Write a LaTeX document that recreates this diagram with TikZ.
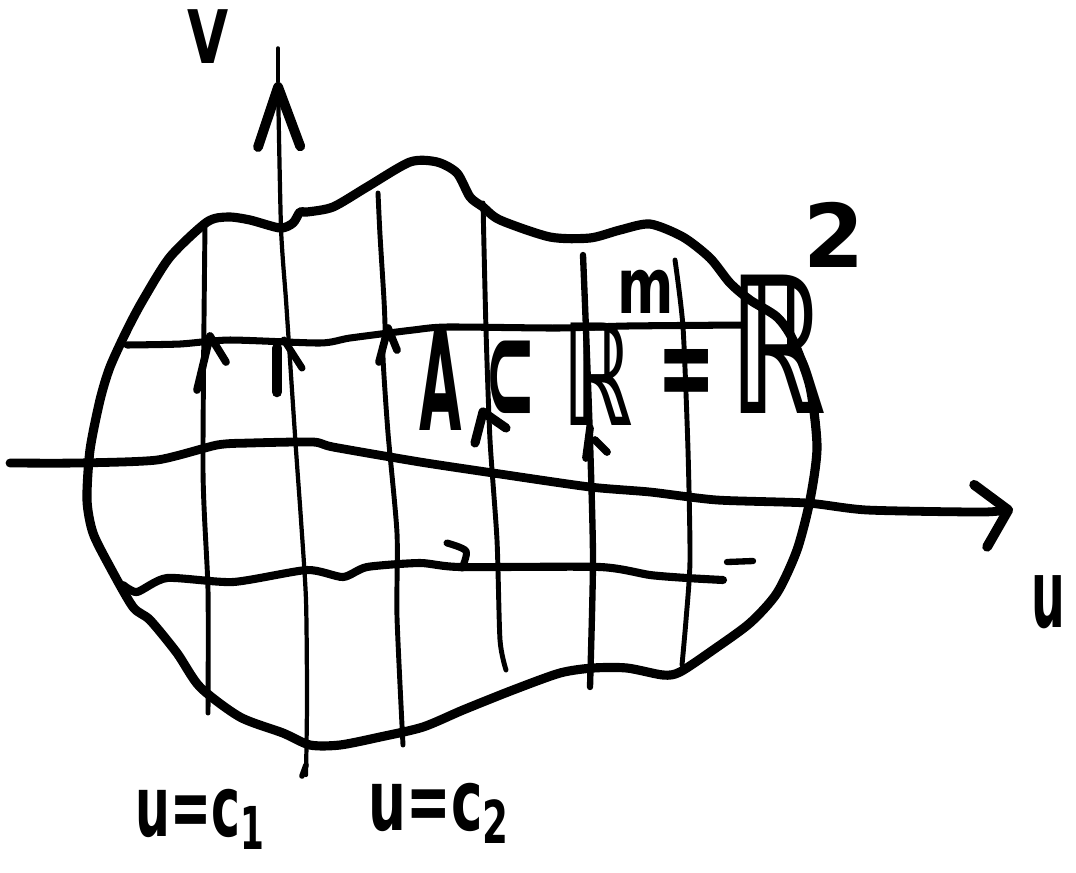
\documentclass[tikz,border=0pt]{standalone}
\usepackage{fontspec}
\setsansfont{DejaVu Sans}
\usepackage{graphicx}
\usetikzlibrary{arrows.meta}

\newcommand{\handtext}[2]{\scalebox{#1}[1]{#2}}

\tikzset{
  pen/.style={line width=2.5pt, line cap=round, line join=round},
  gridpen/.style={line width=1.4pt, line cap=round, line join=round},
  scrawl/.style={inner sep=0pt, font=\sffamily\bfseries\fontsize{#1}{#1}\selectfont},
}

\begin{document}
\begin{tikzpicture}[x=0.01cm, y=-0.01cm]
  \useasboundingbox (0,0) rectangle (1076,872);

  \coordinate (vtip) at (278,82);
  \coordinate (vend) at (278,48);
  \coordinate (utip) at (1013,509);

  % the region
  \draw[pen, line width=2.6pt] plot[smooth cycle, tension=0.45] coordinates {
    (170,257) (207,222) (228,217) (250,220) (280,228) (293,223) (300,212) (307,212)
    (333,207) (367,187) (410,162) (437,162) (457,173) (470,197) (483,207) (500,220)
    (550,237) (590,238) (620,230) (650,224) (683,237) (710,258) (730,283) (750,300)
    (777,317) (793,340) (810,387) (817,447) (810,500) (797,550) (777,593) (750,623)
    (713,650) (680,672) (663,675) (627,668) (593,668) (560,673) (513,690) (463,710)
    (423,727) (380,737) (340,745) (310,745) (283,733) (240,717) (200,687) (177,653)
    (150,620) (133,607) (110,567) (93,533) (87,500) (90,450) (100,400) (110,367)
    (127,330) (143,300)};

  % lines u = const
  \draw[gridpen] plot[smooth, tension=0.4] coordinates {(205,225) (203,470) (208,590) (208,713)};
  \draw[gridpen] plot[smooth, tension=0.4] coordinates {(378,193) (380,235) (384,300) (385,330) (383,357) (388,433) (397,533) (397,617) (403,745)};
  \draw[gridpen] plot[smooth, tension=0.4] coordinates {(483,203) (486,330) (490,440) (497,540) (500,640) (506,670)};
  \draw[gridpen, line width=1.8pt] plot[smooth, tension=0.4] coordinates {(583,255) (586,330) (590,440) (593,560) (590,687)};
  \draw[gridpen] plot[smooth, tension=0.4] coordinates {(675,260) (683,327) (688,450) (690,560) (686,620) (682,665)};

  % lines v = const
  \draw[pen, line width=2pt] plot[smooth, tension=0.4] coordinates {
    (127,345) (180,344) (230,340) (320,343) (350,338) (413,330) (447,327) (557,328) (627,326) (743,325)};
  \draw[pen, line width=2.3pt] plot[smooth, tension=0.4] coordinates {
    (123,585) (137,592) (167,578) (233,582) (307,570) (343,577) (367,567) (420,563)
    (460,567) (600,567) (650,575) (687,578) (723,580)};
  \draw[pen, line width=2pt] plot[smooth] coordinates {(447,543) (466,551) (462,568)};
  \draw[pen, line width=1.8pt] (727,562) -- (753,561);

  % axes
  \draw[pen, -{Straight Barb[length=8pt, width=18pt, line width=2.8pt, round]}]
    plot[smooth, tension=0.4] coordinates {
    (10,463) (77,463) (157,460) (217,445) (250,443) (313,442) (333,447) (420,462)
    (500,474) (590,487) (650,492) (717,500) (807,503) (867,510) (983,512) (utip)};
  \draw[gridpen, line width=1.2pt, -{Straight Barb[length=17pt, width=12pt, line width=2.8pt, round]}]
    plot[smooth, tension=0.4] coordinates {
    (306,775) (307,700) (306,600) (301,520) (296,450) (290,360) (286,300) (281,228) (vtip)};
  \draw[gridpen, line width=1pt] (vtip) -- (vend);
  \draw[gridpen, line width=1.6pt] (306,765) -- (302,776);

  % stray strokes on the grid
  \draw[pen, line width=2.2pt] (197,390) -- (210,336) -- (226,362);
  \draw[pen, line width=3pt] (277,392) -- (277,348);
  \draw[pen, line width=2pt] (284,340) -- (302,368);
  \draw[pen, line width=2.2pt] (379,362) -- (388,328) -- (397,350);
  \draw[pen, line width=2.6pt] (475,443) -- (483,412) -- (506,428);
  \draw[pen, line width=2.2pt] (586,458) -- (590,428);
  \draw[pen, line width=2.2pt] (595,440) -- (607,452);

  % labels
  \node[scrawl=21] (vname) at (208,37) {\handtext{0.72}{V}};
  \node[scrawl=27] (uname) at (1048,602) {\handtext{0.5}{u}};

  \node[scrawl=39] (setA) at (441,380) {\handtext{0.4}{A}};
  \node[scrawl=42] (subset) at (510,382) {\handtext{0.42}{⊂}};
  \node[scrawl=40] (Rone) at (597,374) {\handtext{0.62}{ℝ}};
  \node[scrawl=22] (mexp) at (646,292) {\handtext{0.7}{m}};
  \node[scrawl=36] (equal) at (687,380) {\handtext{0.55}{=}};
  \node[scrawl=54] (Rtwo) at (777,344) {\handtext{0.63}{ℝ}};
  \node[scrawl=25] (twoexp) at (834,235) {2};

  \node[scrawl=24, anchor=base west] (cone) at (135,836) {\handtext{0.58}{u=c\textsubscript{1}}};
  \node[scrawl=24, anchor=base west] (ctwo) at (368,830) {\handtext{0.63}{u=c\textsubscript{2}}};
\end{tikzpicture}
\end{document}
